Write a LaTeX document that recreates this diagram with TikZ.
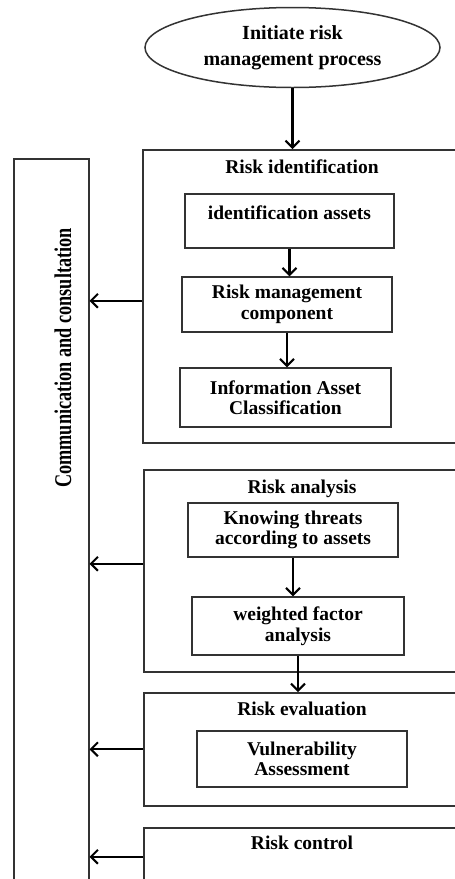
\documentclass[tikz,border=0pt]{standalone}
\usepackage{fontspec}
\setmainfont{Liberation Serif}
\usetikzlibrary{arrows.meta,shapes.geometric,calc}
\begin{document}
\begin{tikzpicture}[x=1pt,y=-1pt,
  line/.style={draw=black!80, line width=1.5pt},
  frame/.style={line, rectangle, anchor=north west, inner sep=0pt},
  box/.style={line, rectangle, inner sep=0pt, align=center, font=\fontsize{19.5}{20.5}\selectfont\bfseries},
  title/.style={anchor=base, inner sep=0pt, font=\fontsize{19.5}{20.5}\selectfont\bfseries},
  arr/.style={line width=2.1pt, -{Straight Barb[length=7pt,width=14pt]}}]
\useasboundingbox (0,0) rectangle (455,879);
\clip (0,0) rectangle (455,879);
\fill[white] (0,0) rectangle (455,879);

\node[line, ellipse, minimum width=295pt, minimum height=80pt, inner sep=0pt, align=center,
      font=\fontsize{20}{26}\selectfont\bfseries] (start) at (292.5,47.5) {Initiate risk\\management process};

\node[frame, minimum width=75pt, minimum height=760pt] (comm) at (13,158) {};
\node[rotate=90, xscale=0.76, inner sep=0pt, font=\fontsize{24}{28}\selectfont\bfseries] (ctext) at (63,358) {Communication and consultation};

\node[frame, minimum width=340pt, minimum height=293pt] (fid) at (142,149) {};
\node[title] (tid) at (302,173) {Risk identification};
\node[box, minimum width=209pt, text height=25.5pt, text depth=28.5pt] (b1) at (289.5,221) {identification assets};
\node[box, minimum width=210pt, minimum height=55pt] (b2) at (287,304.5) {Risk management\\component};
\node[box, minimum width=211pt, minimum height=59pt] (b3) at (285.5,397.5) {Information Asset\\Classification};

\node[frame, minimum width=340pt, minimum height=202pt] (fan) at (143,469) {};
\node[title] (tan) at (302,493) {Risk analysis};
\node[box, minimum width=210pt, minimum height=54pt] (b4) at (293,530) {Knowing threats\\according to assets};
\node[box, minimum width=212pt, minimum height=58pt] (b5) at (298,626) {weighted factor\\analysis};

\node[frame, minimum width=340pt, minimum height=113pt] (fev) at (143,692) {};
\node[title] (tev) at (302,715) {Risk evaluation};
\node[box, minimum width=210pt, minimum height=56pt] (b6) at (302,759) {Vulnerability\\Assessment};

\node[frame, minimum width=340pt, minimum height=58pt] (fco) at (143,827) {};
\node[title] (tco) at (302,849) {Risk control};

\draw[arr] (start.south) -- (start.south |- fid.north);
\draw[arr] (b1.south) -- (b1.south |- b2.north);
\draw[arr] (b2.south) -- (b2.south |- b3.north);
\draw[arr] (b4.south) -- (b4.south |- b5.north);
\draw[arr] (b5.south) -- (b5.south |- fev.north);

\draw[arr] ([yshift=-4.5pt]fid.west) -- ([yshift=-4.5pt]fid.west -| comm.east);
\draw[arr] ([yshift=7pt]fan.west) -- ([yshift=7pt]fan.west -| comm.east);
\draw[arr] (fev.west) -- (fev.west -| comm.east);
\draw[arr] (fco.west) -- (fco.west -| comm.east);
\end{tikzpicture}
\end{document}
